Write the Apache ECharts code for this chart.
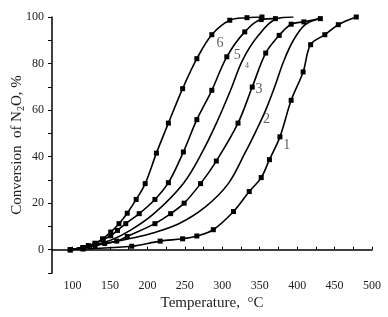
<!DOCTYPE html>
<html>
  <head>
    <meta charset="utf-8">
    <title>N2O conversion</title>
    <style>
        *{ padding: 0; margin: 0; }
        body{ width: 388px; height: 317px; background-color: #ffffff; }
        #chart{ width: 388px; height: 317px; }
    </style>
  </head>
  <body>
    <div id="chart"></div>
    <script type="text/javascript" src="https://cdn.jsdelivr.net/npm/echarts@6/dist/echarts.min.js"></script>
    <script type="text/javascript">
        // temperature (°C) and conversion (%)
        var curve1T = [97, 114, 179, 217, 247, 266, 288, 315, 336, 352, 363, 377, 392, 408, 418, 437, 455, 479];
        var curve1V = [0, 0.3, 1.5, 3.7, 4.7, 5.9, 8.6, 16.4, 25, 31, 38.7, 48.5, 64.2, 76.4, 88.1, 92.4, 96.7, 100];
        var curve2T = [97, 120, 150, 180, 206, 242, 277, 308, 331, 345, 358, 370, 382, 395, 410, 430];
        var curve2V = [0, 1.3, 3, 5, 7.1, 11.2, 18.3, 28.4, 42, 51, 60, 70, 81, 90, 96.5, 99.5];
        var curve3T = [97, 114, 130, 143, 159, 173, 210, 231, 249, 271, 292, 321, 340, 358, 376, 392, 409, 431];
        var curve3V = [0, 0.9, 1.8, 2.7, 3.7, 5.7, 11.2, 15.5, 20, 28.4, 38.1, 54.4, 69.9, 84.5, 92.1, 96.9, 97.9, 99.3];
        var curve4T = [97, 120, 150, 177, 209, 248, 273, 293, 311, 327, 348, 371, 395];
        var curve4V = [0, 1.5, 4, 8.3, 15.6, 28.5, 41.8, 55, 68.5, 81.4, 92, 99, 100];
        var curve5T = [97, 114, 130, 141, 151, 160, 171, 189, 210, 228, 248, 266, 286, 306, 330, 352, 371];
        var curve5V = [0, 0.9, 2.6, 4.4, 6, 8.3, 11.2, 15.5, 21.6, 28.8, 42, 55.9, 68.5, 82.9, 93.6, 98.9, 99.3];
        var curve6T = [97, 114, 121, 130, 140, 151, 162, 173, 185, 197, 212, 228, 247, 266, 286, 310, 333, 353];
        var curve6V = [0, 0.9, 1.8, 2.8, 4.7, 7.6, 11.2, 15.7, 21.6, 28.4, 41.5, 54.4, 69.2, 82.1, 92.4, 98.6, 99.7, 100];

        // curve number annotations
        var labelText = ['1', '2', '3', '4', '5', '6'];
        var labelT = [386, 359, 349, 333, 320, 297];
        var labelV = [45, 56, 69, 79, 83.5, 88.7];

        var xLabels = [100, 150, 200, 250, 300, 350, 400, 450, 500];
        var xTicks = [100, 125, 150, 175, 200, 225, 250, 275, 300, 325, 350, 375, 400, 425, 450, 475, 500];

        var font = 'Liberation Serif';

        function pairs(t, v) {
            var out = [];
            for (var i = 0; i < t.length; i++) out.push([t[i], v[i]]);
            return out;
        }

        function curve(t, v, marks) {
            return {
                type: 'line',
                data: pairs(t, v),
                smooth: 0.35,
                symbol: marks ? 'rect' : 'none',
                symbolSize: 5,
                showAllSymbol: true,
                itemStyle: { color: '#000' },
                lineStyle: { color: '#000', width: 1.6 },
                silent: true,
                z: 3
            };
        }

        var labelData = [];
        for (var i = 0; i < labelText.length; i++) {
            labelData.push({
                value: [labelT[i], labelV[i]],
                name: labelText[i],
                label: { fontSize: labelText[i] === '4' ? 8 : 14 }
            });
        }

        var myChart = echarts.init(document.getElementById('chart'));
        var option = {
            animation: false,
            backgroundColor: '#fff',
            grid: { left: 52, right: 16, top: 17, bottom: 44, outerBoundsMode: 'none', containLabel: false },
            xAxis: {
                type: 'value',
                min: 72.5,
                max: 500,
                name: 'Temperature,  °C',
                nameLocation: 'middle',
                nameGap: 23,
                nameMoveOverlap: false,
                nameTextStyle: { fontFamily: font, fontSize: 15, color: '#222' },
                axisLine: { show: true, lineStyle: { color: '#000', width: 1.5 } },
                axisTick: { show: true, inside: true, length: 3, customValues: xTicks, lineStyle: { color: '#000' } },
                axisLabel: { customValues: xLabels, fontFamily: font, fontSize: 12, color: '#222', margin: 7 },
                splitLine: { show: false }
            },
            yAxis: {
                type: 'value',
                min: -10,
                max: 100,
                interval: 10,
                name: 'Conversion  of N{sub|2}O, %',
                nameLocation: 'middle',
                nameGap: 26,
                nameMoveOverlap: false,
                nameTextStyle: {
                    fontFamily: font, fontSize: 15, color: '#222',
                    rich: { sub: { fontFamily: font, fontSize: 10, color: '#222', verticalAlign: 'bottom', padding: [8, 0, 0, 0] } }
                },
                axisLine: { show: true, lineStyle: { color: '#000', width: 1.5 } },
                axisTick: { show: true, inside: false, length: 4, lineStyle: { color: '#000' } },
                axisLabel: {
                    fontFamily: font, fontSize: 12, color: '#222', margin: 8,
                    formatter: function (v) { return (v >= 0 && v % 20 === 0) ? String(v) : ''; }
                },
                splitLine: { show: false }
            },
            series: [
                curve(curve1T, curve1V, true),
                curve(curve2T, curve2V, false),
                curve(curve3T, curve3V, true),
                curve(curve4T, curve4V, false),
                curve(curve5T, curve5V, true),
                curve(curve6T, curve6V, true),
                {
                    type: 'scatter',
                    data: labelData,
                    symbolSize: 0,
                    silent: true,
                    z: 5,
                    label: {
                        show: true,
                        position: 'inside',
                        formatter: '{b}',
                        fontFamily: font,
                        color: '#333'
                    }
                }
            ]
        };
        myChart.setOption(option);
    </script>
  </body>
</html>
